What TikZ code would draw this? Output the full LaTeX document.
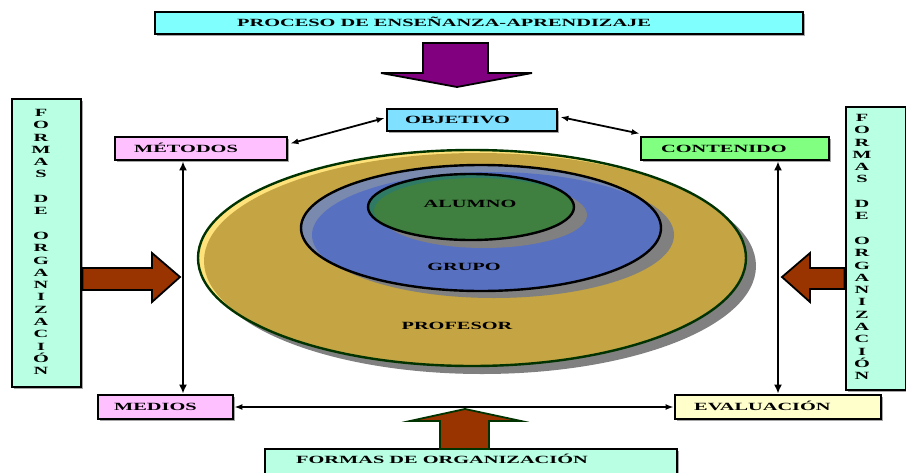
\documentclass[tikz,border=0pt]{standalone}
\usepackage{fontspec}
\setmainfont{Liberation Serif}[FakeStretch=1.85]
\usetikzlibrary{calc,shadows,arrows.meta}
\definecolor{topcyan}{HTML}{80FFFF}
\definecolor{objblue}{HTML}{80E0FF}
\definecolor{pinkbox}{HTML}{FFC0FF}
\definecolor{greenbox}{HTML}{80FF80}
\definecolor{evalbox}{HTML}{FFFFCC}
\definecolor{mint}{HTML}{B8FFE4}
\definecolor{purplearr}{HTML}{800080}
\definecolor{brownarr}{HTML}{993300}
\definecolor{dkgreen}{HTML}{003300}
\definecolor{profcol}{HTML}{C4A443}
\definecolor{profhi}{HTML}{FFE27A}
\definecolor{grupocol}{HTML}{5870C0}
\definecolor{grupoband}{HTML}{7A8AAE}
\definecolor{alucol}{HTML}{3F8040}
\definecolor{aluband}{HTML}{2E7A64}
\definecolor{shd}{HTML}{808080}
\begin{document}
\begin{tikzpicture}[x=1pt,y=-1pt,
  box/.style={draw=black, line width=2.8pt, inner sep=0pt,
    drop shadow={shadow xshift=2pt,shadow yshift=-2pt,fill=black,opacity=0.35}},
  lbl/.style={anchor=west, inner sep=0pt, text height=7.4pt, text depth=0pt,
    font=\fontsize{11}{13}\selectfont\bfseries},
  vtext/.style={align=center, inner sep=0pt,
    font=\fontsize{11}{12.3}\selectfont\bfseries},
  dbl/.style={{Latex[length=9pt,width=8pt]}-{Latex[length=9pt,width=8pt]}, line width=2.6pt},
  thin dbl/.style={{Latex[length=8pt,width=6pt]}-{Latex[length=8pt,width=6pt]}, line width=1.8pt},
  blockarr/.style={line width=1.8pt, line join=miter},
  ]
\useasboundingbox (0,0) rectangle (906,472);
\clip (0,0) rectangle (906,472);

% ---------- ellipses ----------
% profesor
\fill[shd] (482,266) ellipse [x radius=274, y radius=108];
\fill[profhi] (472,258) ellipse [x radius=274, y radius=108];
\begin{scope}
  \clip (472,258) ellipse [x radius=274, y radius=108];
  \fill[profcol] (478,261) ellipse [x radius=274, y radius=108];
\end{scope}
\draw[dkgreen, line width=2.4pt] (472,258) ellipse [x radius=274, y radius=108];
% grupo
\fill[shd] (494,235) ellipse [x radius=180, y radius=63];
\fill[grupoband] (481,228) ellipse [x radius=180, y radius=63];
\begin{scope}
  \clip (481,228) ellipse [x radius=180, y radius=63];
  \fill[grupocol] (492,235) ellipse [x radius=180, y radius=63];
\end{scope}
\draw[black, line width=2.4pt] (481,228) ellipse [x radius=180, y radius=63];
% alumno
\fill[shd] (484,215) ellipse [x radius=103, y radius=33];
\fill[aluband] (471,207) ellipse [x radius=103, y radius=33];
\begin{scope}
  \clip (471,207) ellipse [x radius=103, y radius=33];
  \fill[alucol] (477,211) ellipse [x radius=103, y radius=33];
\end{scope}
\draw[black, line width=2.4pt] (471,207) ellipse [x radius=103, y radius=33];

\node[lbl, anchor=center] (alu) at (470,204) {ALUMNO};
\node[lbl, anchor=center] (gru) at (464,267) {GRUPO};
\node[lbl, anchor=center] (pro) at (457,326) {PROFESOR};

% ---------- boxes ----------
\node[box, fill=topcyan, minimum width=648pt, minimum height=22pt] (top) at (479,23) {};
\node[lbl] (toptxt) at (237,23) {PROCESO DE ENSEÑANZA-APRENDIZAJE};

\node[box, fill=objblue, minimum width=170pt, minimum height=22pt] (obj) at (472,120) {};
\node[lbl] (objtxt) at (405,120) {OBJETIVO};

\node[box, fill=pinkbox, minimum width=172pt, minimum height=23pt] (met) at (201,148.5) {};
\node[lbl] (mettxt) at (134,148.5) {MÉTODOS};

\node[box, fill=greenbox, minimum width=188pt, minimum height=23pt] (con) at (735,148.5) {};
\node[lbl] (contxt) at (661,148.5) {CONTENIDO};

\node[box, fill=pinkbox, minimum width=135pt, minimum height=24pt] (med) at (165.5,407) {};
\node[lbl] (medtxt) at (114,407) {MEDIOS};

\node[box, fill=evalbox, minimum width=206pt, minimum height=24pt] (eva) at (778,407) {};
\node[lbl] (evatxt) at (694,407) {EVALUACIÓN};

\node[box, fill=mint, minimum width=412pt, minimum height=28pt] (bot) at (471,463) {};
\node[lbl] (bottxt) at (296,460) {FORMAS DE ORGANIZACIÓN};

\node[box, fill=mint, minimum width=69pt, minimum height=288pt] (fl) at (46.5,243) {};
\node[vtext] (fltxt) at (41,242) {F\\O\\R\\M\\A\\S\\[12.3pt]D\\E\\[12.3pt]O\\R\\G\\A\\N\\I\\Z\\A\\C\\I\\Ó\\N};

\node[box, fill=mint, minimum width=60pt, minimum height=283pt] (fr) at (876,248.5) {};
\node[vtext] (frtxt) at (862,247) {F\\O\\R\\M\\A\\S\\[12.3pt]D\\E\\[12.3pt]O\\R\\G\\A\\N\\I\\Z\\A\\C\\I\\Ó\\N};

% ---------- block arrows ----------
\draw[blockarr, fill=purplearr] (423,43) -- (488,43) -- (488,73) -- (532,73) -- (457,87) -- (381,73) -- (423,73) -- cycle;
\draw[blockarr, fill=brownarr] (fl.east |- 0,268) -- (152,268) -- (152,253) -- (180,277) -- (152,302) -- (152,290) -- (fl.east |- 0,290) -- cycle;
\draw[blockarr, fill=brownarr] (fr.west |- 0,268) -- (810,268) -- (810,253) -- (782,277) -- (810,302) -- (810,289) -- (fr.west |- 0,289) -- cycle;
\draw[blockarr, draw=dkgreen, fill=brownarr] (440,449) -- (440,421) -- (410,421) -- (465,409) -- (521,421) -- (489,421) -- (489,449) -- cycle;

% ---------- connectors ----------
\coordinate (mlx) at ($(met.south)+(-18,0)$);
\draw[dbl] (mlx) -- (mlx |- med.north);
\draw[dbl] (eva.north |- con.south) -- (eva.north);
\draw[thin dbl] (med.east) -- (eva.west);
\draw[thin dbl] ($(met.east)+(2,-5)$) -- ($(obj.west)+(-1,-2)$);
\draw[thin dbl] ($(obj.east)+(2,-3)$) -- ($(con.north west)+(0,-2)$);
\end{tikzpicture}
\end{document}
